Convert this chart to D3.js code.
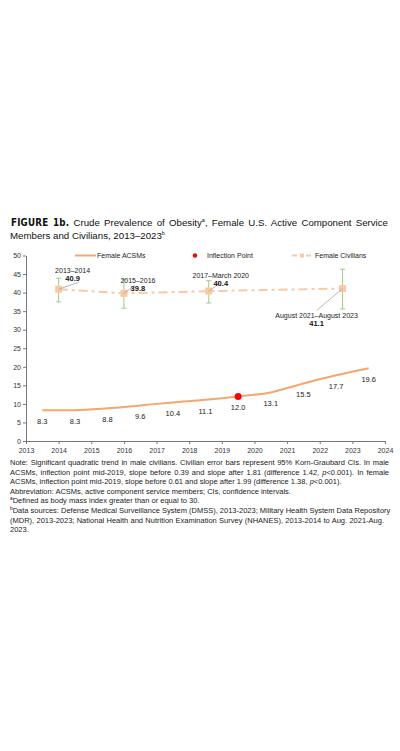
<!DOCTYPE html>
<html>
<head>
<meta charset="utf-8">
<script src="https://cdn.jsdelivr.net/npm/d3@7"></script>
<style>
  body { margin: 0; background: #fff; }
  text { font-family: "Liberation Sans", Arial, sans-serif; }
</style>
</head>
<body>
<svg id="mysvg"></svg>
<script>
// ---- data ----
const acsmYears = [2013.5, 2014.5, 2015.5, 2016.5, 2017.5, 2018.5, 2019.5, 2020.5, 2021.5, 2022.5, 2023.5];
const acsmValues = [8.3, 8.3, 8.8, 9.6, 10.4, 11.1, 12.0, 13.1, 15.5, 17.7, 19.6];
const inflectionYear = 2019.5;
const inflectionValue = 12.0;

const civPeriods = ["2013\u20132014", "2015\u20132016", "2017\u2013March 2020", "August 2021\u2013August 2023"];
const civYears = [2014, 2016, 2018.6, 2022.7];
const civValues = [40.9, 39.8, 40.4, 41.1];
const civLower = [37.5, 35.8, 37.2, 35.6];
const civUpper = [43.9, 43.5, 43.2, 46.3];

const xTicks = [2013, 2014, 2015, 2016, 2017, 2018, 2019, 2020, 2021, 2022, 2023, 2024];
const yTicks = [0, 5, 10, 15, 20, 25, 30, 35, 40, 45, 50];

const w = 400, h = 751;
const acsmColor = "#f5a66f", civColor = "#f8c9a7", ciColor = "#9fcb83";

const svg = d3.select("#mysvg").attr("width", w).attr("height", h);

const xScale = d3.scaleLinear().domain([2013, 2024]).range([26, 385]);
const yScale = d3.scaleLinear().domain([0, 50]).range([441, 255.5]);

// stretch a line to a given width by widening the spaces
function justify(t, target) {
    const natural = t.node().getComputedTextLength();
    const spaces = (t.text().match(/ /g) || []).length;
    if (spaces > 0 && natural < target) t.attr("word-spacing", (target - natural) / spaces);
}

// title
const title = svg.append("text").attr("x", 11).attr("y", 226)
    .attr("font-size", 9.7).attr("fill", "#111");
title.append("tspan").text("FIGURE 1b.")
    .attr("font-family", "'DejaVu Sans Condensed', 'DejaVu Sans'")
    .attr("font-weight", "bold").attr("font-stretch", "condensed")
    .attr("letter-spacing", 0.2);
title.append("tspan").text(" Crude Prevalence of Obesity");
title.append("tspan").text("a").attr("font-size", 5.5).attr("dy", -4);
title.append("tspan").text(", Female U.S. Active Component Service").attr("dy", 4);
justify(title, 377);

const title2 = svg.append("text").attr("x", 10).attr("y", 239)
    .attr("font-size", 9.7).attr("fill", "#111");
title2.append("tspan").text("Members and Civilians, 2013\u20132023");
title2.append("tspan").text("b").attr("font-size", 5.5).attr("dy", -4);

// axes
const xAxis = svg.append("g")
    .attr("transform", "translate(0," + yScale(0) + ")")
    .call(d3.axisBottom(xScale).tickValues(xTicks).tickFormat(d3.format("d")).tickSize(3).tickSizeOuter(0));
const yAxis = svg.append("g")
    .attr("transform", "translate(" + xScale(2013) + ",0)")
    .call(d3.axisLeft(yScale).tickValues(yTicks).tickSize(3).tickSizeOuter(0));
[xAxis, yAxis].forEach(g => {
    g.select(".domain").attr("stroke", "#777");
    g.selectAll(".tick line").attr("stroke", "#777");
    g.selectAll(".tick text").attr("font-family", "'Liberation Sans', Arial, sans-serif")
        .attr("font-size", 7).attr("fill", "#333");
});
xAxis.selectAll(".tick text").attr("dy", "0.9em");
yAxis.selectAll(".tick text").attr("x", -5);

// female ACSMs line
const line = d3.line()
    .x((d, i) => xScale(acsmYears[i]))
    .y(d => yScale(d))
    .curve(d3.curveMonotoneX);

svg.append("path")
    .datum(acsmValues)
    .attr("fill", "none")
    .attr("stroke", acsmColor)
    .attr("stroke-width", 2)
    .attr("d", line);

svg.selectAll(".acsm-label")
    .data(acsmValues)
    .enter().append("text")
    .attr("class", "acsm-label")
    .attr("x", (d, i) => xScale(acsmYears[i]))
    .attr("y", d => yScale(d) + 14)
    .attr("text-anchor", "middle")
    .attr("font-size", 7.5)
    .attr("fill", "#222")
    .text(d => d.toFixed(1));

svg.append("circle")
    .attr("cx", xScale(inflectionYear))
    .attr("cy", yScale(inflectionValue))
    .attr("r", 3.5)
    .attr("fill", "#ff0000");

// female civilians
const civLine = d3.line()
    .x((d, i) => xScale(civYears[i]))
    .y(d => yScale(d));

svg.append("path")
    .datum(civValues)
    .attr("fill", "none")
    .attr("stroke", civColor)
    .attr("stroke-width", 2)
    .attr("stroke-dasharray", "9,4,3,4")
    .attr("d", civLine);

// error bars
civYears.forEach((yr, i) => {
    const cx = xScale(yr);
    svg.append("line").attr("x1", cx).attr("x2", cx)
        .attr("y1", yScale(civLower[i])).attr("y2", yScale(civUpper[i]))
        .attr("stroke", ciColor).attr("stroke-width", 1);
    [civLower[i], civUpper[i]].forEach(v => {
        svg.append("line").attr("x1", cx - 2.5).attr("x2", cx + 2.5)
            .attr("y1", yScale(v)).attr("y2", yScale(v))
            .attr("stroke", ciColor).attr("stroke-width", 1);
    });
});

svg.selectAll(".civ-dot")
    .data(civValues)
    .enter().append("rect")
    .attr("class", "civ-dot")
    .attr("x", (d, i) => xScale(civYears[i]) - 3.5)
    .attr("y", d => yScale(d) - 3.5)
    .attr("width", 7).attr("height", 7)
    .attr("fill", civColor);

// data labels with leader lines (offsets relative to the point)
const labelOffsets = [[14, -16], [14, -10], [12, -13], [-26, 29]];
const leaderEnds = [[20, -7], [11, -8], [11, -8], [-26, 22]];
civValues.forEach((v, i) => {
    const px = xScale(civYears[i]), py = yScale(v);
    const lx = px + labelOffsets[i][0], ly = py + labelOffsets[i][1];
    svg.append("line")
        .attr("x1", px).attr("y1", py)
        .attr("x2", px + leaderEnds[i][0]).attr("y2", py + leaderEnds[i][1])
        .attr("stroke", "#999").attr("stroke-width", 0.7);
    svg.append("text").attr("x", lx).attr("y", ly)
        .attr("text-anchor", "middle").attr("font-size", 7).attr("fill", "#222")
        .text(civPeriods[i]);
    svg.append("text").attr("x", lx).attr("y", ly + 8)
        .attr("text-anchor", "middle").attr("font-size", 7.5).attr("font-weight", "bold").attr("fill", "#111")
        .text(v.toFixed(1));
});

// legend
const legend = svg.append("g").attr("font-size", 7).attr("fill", "#222");
legend.append("line").attr("x1", 75).attr("x2", 96).attr("y1", 255.5).attr("y2", 255.5)
    .attr("stroke", acsmColor).attr("stroke-width", 2);
legend.append("text").attr("x", 97).attr("y", 258).text("Female ACSMs");
legend.append("circle").attr("cx", 195).attr("cy", 255.5).attr("r", 2.2).attr("fill", "#ff0000");
legend.append("text").attr("x", 207).attr("y", 258).text("Inflection Point");
legend.append("line").attr("x1", 292).attr("x2", 313).attr("y1", 255.5).attr("y2", 255.5)
    .attr("stroke", civColor).attr("stroke-width", 2).attr("stroke-dasharray", "5,3,3,3");
legend.append("rect").attr("x", 300).attr("y", 253.5).attr("width", 4).attr("height", 4).attr("fill", civColor);
legend.append("text").attr("x", 315).attr("y", 258).text("Female Civilians");

// notes
const notes = [
    { parts: ["Note: Significant quadratic trend in male civilians. Civilian error bars represent 95% Korn-Graubard CIs. In male"], justify: 379 },
    { parts: ["ACSMs, inflection point mid-2019, slope before 0.39 and slope after 1.81 (difference 1.42, ", ["p"], "<0.001). In female"], justify: 379 },
    { parts: ["ACSMs, inflection point mid-2019, slope before 0.61 and slope after 1.99 (difference 1.38, ", ["p"], "<0.001)."] },
    { parts: ["Abbreviation: ACSMs, active component service members; CIs, confidence intervals."] },
    { sup: "a", parts: ["Defined as body mass index greater than or equal to 30."] },
    { sup: "b", parts: ["Data sources: Defense Medical Surveillance System (DMSS), 2013-2023; Military Health System Data Repository"], justify: 378 },
    { parts: ["(MDR), 2013-2023; National Health and Nutrition Examination Survey (NHANES), 2013-2014 to Aug. 2021-Aug."], justify: 374 },
    { parts: ["2023."] }
];
notes.forEach((n, i) => {
    const t = svg.append("text").attr("x", 10).attr("y", 465 + i * 9.6)
        .attr("font-size", 7.5).attr("fill", "#222");
    if (n.sup) {
        t.append("tspan").text(n.sup).attr("font-size", 4.8).attr("dy", -3);
    }
    n.parts.forEach((p, j) => {
        const s = t.append("tspan");
        if (n.sup && j === 0) s.attr("dy", 3);
        if (Array.isArray(p)) s.attr("font-style", "italic").text(p[0]);
        else s.text(p);
    });
    if (n.justify) justify(t, n.justify);
});
</script>
</body>
</html>
